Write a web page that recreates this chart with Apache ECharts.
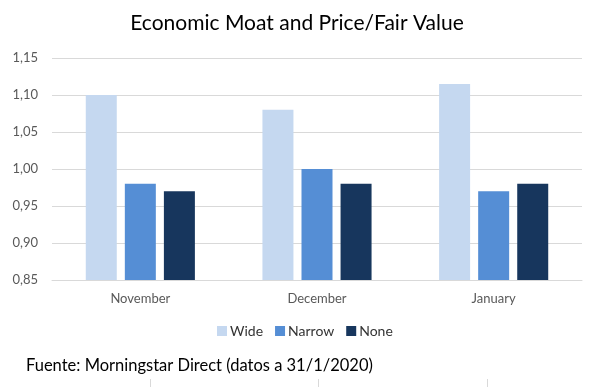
<!DOCTYPE html>
<html>
<head>
<meta charset="utf-8">
<script src="https://cdn.jsdelivr.net/npm/echarts@6/dist/echarts.min.js"></script>
<style>
html,body{margin:0;padding:0;background:#fff;}
#c{width:594px;height:387px;}
</style>
</head>
<body>
<div id="c"></div>
<script>
const categories = ['November', 'December', 'January'];
const seriesNames = ['Wide', 'Narrow', 'None'];
const wideValues = [1.10, 1.08, 1.115];
const narrowValues = [0.98, 1.00, 0.97];
const noneValues = [0.97, 0.98, 0.98];
const colors = ['#c5d8f0', '#558ed5', '#17365d'];
const titleText = 'Economic Moat and Price/Fair Value';
const footerText = 'Fuente: Morningstar Direct (datos a 31/1/2020)';

const font = 'Lato, "Open Sans", sans-serif';
const chart = echarts.init(document.getElementById('c'));
const dataSets = [wideValues, narrowValues, noneValues];
chart.setOption({
  animation: false,
  title: {
    text: titleText,
    left: 'center',
    top: 8,
    textStyle: {fontFamily: font, fontSize: 21, fontWeight: 'normal', color: '#000'}
  },
  legend: {
    data: seriesNames,
    bottom: 44,
    left: 212,
    itemWidth: 10,
    itemHeight: 10,
    itemGap: 12,
    icon: 'rect',
    textStyle: {fontFamily: font, fontSize: 14, color: '#333', padding: [0,0,0,-2]}
  },
  grid: {left: 52, right: 12, top: 58, bottom: 107, containLabel: false},
  xAxis: {
    type: 'category',
    data: categories,
    axisLine: {lineStyle: {color: '#d9d9d9'}},
    axisTick: {show: false},
    axisLabel: {fontFamily: font, fontSize: 13, color: '#595959', margin: 12}
  },
  yAxis: {
    type: 'value',
    min: 0.85,
    max: 1.15,
    interval: 0.05,
    axisLine: {show: false},
    axisTick: {show: false},
    splitLine: {lineStyle: {color: '#d9d9d9'}},
    axisLabel: {
      fontFamily: font, fontSize: 13, color: '#595959', margin: 14,
      formatter: v => v.toFixed(2).replace('.', ',')
    }
  },
  series: seriesNames.map((n, i) => ({
    name: n,
    type: 'bar',
    data: dataSets[i],
    barWidth: 31,
    barGap: '26%',
    itemStyle: {color: colors[i]}
  })),
  graphic: [
    {type: 'text', left: 26, top: 357, style: {text: footerText, fontFamily: font, fontSize: 16.5, fill: '#000'}},
    {type: 'line', shape: {x1: 150.5, y1: 379, x2: 150.5, y2: 387}, style: {stroke: '#d9d9d9', lineWidth: 1}},
    {type: 'line', shape: {x1: 318.5, y1: 379, x2: 318.5, y2: 387}, style: {stroke: '#d9d9d9', lineWidth: 1}},
    {type: 'line', shape: {x1: 487.5, y1: 379, x2: 487.5, y2: 387}, style: {stroke: '#d9d9d9', lineWidth: 1}}
  ]
});
</script>
</body>
</html>
